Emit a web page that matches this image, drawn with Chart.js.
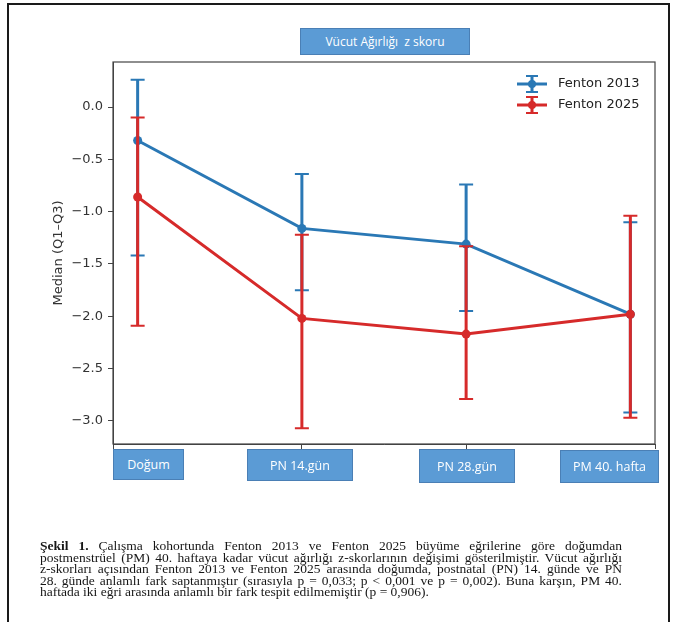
<!DOCTYPE html>
<html>
<head>
<meta charset="utf-8">
<script src="https://cdn.jsdelivr.net/npm/chart.js@4.4.1/dist/chart.umd.min.js"></script>
<style>
  body { margin: 0; width: 676px; height: 622px; overflow: hidden; background: #fff; position: relative; }
  #frame { position: absolute; left: 7px; top: 3px; width: 659px; height: 660px; border: 2px solid #1a1a1a; }
  #chart { position: absolute; left: 0; top: 0; }
  .box { position: absolute; background: #5b9bd5; border: 1px solid #4a7fb5; color: #fff;
         font-family: "Open Sans", sans-serif; font-size: 12.5px; display: flex; align-items: center;
         justify-content: center; box-sizing: border-box; }
  #caption { position: absolute; left: 40px; top: 540px; width: 582px; font-family: "Liberation Serif", serif;
             font-size: 13.5px; line-height: 11.6px; color: #161616; }
  #caption div { text-align: justify; text-align-last: justify; white-space: nowrap; }
  #caption div.last { text-align-last: left; }
</style>
</head>
<body>
<div id="frame"></div>
<canvas id="chart" width="676" height="622"></canvas>
<div class="box" id="title" style="left:300px;top:28px;width:170px;height:27px;font-size:12px;">Vücut Ağırlığı&nbsp; z skoru</div>
<div id="labels"></div>
<div id="caption">
  <div><b>Şekil 1.</b> Çalışma kohortunda Fenton 2013 ve Fenton 2025 büyüme eğrilerine göre doğumdan</div>
  <div>postmenstrüel (PM) 40. haftaya kadar vücut ağırlığı z-skorlarının değişimi gösterilmiştir. Vücut ağırlığı</div>
  <div>z-skorları açısından Fenton 2013 ve Fenton 2025 arasında doğumda, postnatal (PN) 14. günde ve PN</div>
  <div>28. günde anlamlı fark saptanmıştır (sırasıyla p = 0,033; p &lt; 0,001 ve p = 0,002). Buna karşın, PM 40.</div>
  <div class="last">haftada iki eğri arasında anlamlı bir fark tespit edilmemiştir (p = 0,906).</div>
</div>
<script>
const categories = ['Doğum', 'PN 14.gün', 'PN 28.gün', 'PM 40. hafta'];
const fenton2013Median = [-0.32, -1.16, -1.31, -1.98];
const fenton2013Q1 = [-1.42, -1.75, -1.95, -2.92];
const fenton2013Q3 = [0.26, -0.64, -0.74, -1.10];
const fenton2025Median = [-0.86, -2.02, -2.17, -1.98];
const fenton2025Q1 = [-2.09, -3.07, -2.79, -2.97];
const fenton2025Q3 = [-0.10, -1.22, -1.33, -1.04];

// label boxes were placed by hand in the figure (left, top, width, height)
const boxLayout = [[113, 449, 71, 31], [247, 449, 106, 32], [419, 449, 96, 34], [560, 450, 99, 33]];
categories.forEach(function (c, i) {
  const b = document.createElement('div');
  b.className = 'box';
  b.style.left = boxLayout[i][0] + 'px';
  b.style.top = boxLayout[i][1] + 'px';
  b.style.width = boxLayout[i][2] + 'px';
  b.style.height = boxLayout[i][3] + 'px';
  b.textContent = c;
  document.getElementById('labels').appendChild(b);
});

const blue = '#2a78b5';
const red = '#d62a2a';

function points(values) {
  return values.map(function (v, i) { return { x: i, y: v }; });
}

const errorBars = {
  id: 'errorBars',
  beforeDatasetDraw(chart, args) {
    const ds = chart.data.datasets[args.index];
    const xs = chart.scales.x, ys = chart.scales.y;
    const ctx = chart.ctx;
    ctx.save();
    ctx.strokeStyle = ds.borderColor;
    for (let i = 0; i < ds.q1.length; i++) {
      const px = xs.getPixelForValue(i);
      const lo = ys.getPixelForValue(ds.q1[i]);
      const hi = ys.getPixelForValue(ds.q3[i]);
      ctx.lineWidth = 3;
      ctx.beginPath();
      ctx.moveTo(px, lo);
      ctx.lineTo(px, hi);
      ctx.stroke();
      ctx.lineWidth = 2;
      ctx.beginPath();
      ctx.moveTo(px - 7, lo); ctx.lineTo(px + 7, lo);
      ctx.moveTo(px - 7, hi); ctx.lineTo(px + 7, hi);
      ctx.stroke();
    }
    ctx.restore();
  }
};

const frameAndLegend = {
  id: 'frameAndLegend',
  afterDraw(chart) {
    const ctx = chart.ctx;
    const a = chart.chartArea;
    ctx.save();
    ctx.strokeStyle = '#444';
    ctx.lineWidth = 1.2;
    ctx.strokeRect(a.left, a.top, a.right - a.left, a.bottom - a.top);
    // legend, matplotlib style errorbar icons
    chart.data.datasets.forEach(function (ds, k) {
      const cy = a.top + 22 + k * 21;
      const cx = a.right - 123;
      ctx.strokeStyle = ds.borderColor;
      ctx.fillStyle = ds.borderColor;
      ctx.lineWidth = 3;
      ctx.beginPath();
      ctx.moveTo(cx - 15, cy); ctx.lineTo(cx + 15, cy);
      ctx.moveTo(cx, cy - 8); ctx.lineTo(cx, cy + 8);
      ctx.stroke();
      ctx.lineWidth = 2;
      ctx.beginPath();
      ctx.moveTo(cx - 6, cy - 8); ctx.lineTo(cx + 6, cy - 8);
      ctx.moveTo(cx - 6, cy + 8); ctx.lineTo(cx + 6, cy + 8);
      ctx.stroke();
      ctx.beginPath();
      ctx.arc(cx, cy, 4, 0, Math.PI * 2);
      ctx.fill();
      ctx.fillStyle = '#222';
      ctx.font = '13px "DejaVu Sans"';
      ctx.textBaseline = 'middle';
      ctx.fillText(ds.label, cx + 26, cy);
    });
    ctx.restore();
  }
};

const chart = new Chart(document.getElementById('chart'), {
  type: 'line',
  data: {
    datasets: [{
      label: 'Fenton 2013',
      data: points(fenton2013Median),
      q1: fenton2013Q1,
      q3: fenton2013Q3,
      borderColor: blue,
      backgroundColor: blue,
      borderWidth: 3,
      pointRadius: 4.5,
      pointBorderWidth: 0,
      tension: 0,
      order: 2
    }, {
      label: 'Fenton 2025',
      data: points(fenton2025Median),
      q1: fenton2025Q1,
      q3: fenton2025Q3,
      borderColor: red,
      backgroundColor: red,
      borderWidth: 3,
      pointRadius: 4.5,
      pointBorderWidth: 0,
      tension: 0,
      order: 1
    }]
  },
  options: {
    responsive: false,
    animation: false,
    layout: { padding: { left: 51, top: 62, right: 21, bottom: 168 } },
    plugins: { legend: { display: false }, tooltip: { enabled: false } },
    scales: {
      x: {
        type: 'linear',
        min: -0.15,
        max: 3.15,
        afterFit: function (s) { s.height = 10; },
        ticks: { stepSize: 1, display: false },
        grid: { drawOnChartArea: false, tickLength: 5, color: '#444' },
        border: { color: '#444' }
      },
      y: {
        min: -3.22,
        max: 0.43,
        afterFit: function (s) { s.width = 62; },
        ticks: {
          stepSize: 0.5,
          includeBounds: false,
          padding: 5,
          color: '#333',
          font: { family: 'DejaVu Sans', size: 13 },
          callback: function (v) { return (v < 0 ? '\u2212' : '') + Math.abs(v).toFixed(1); }
        },
        grid: { drawOnChartArea: false, tickLength: 5, color: '#444' },
        border: { color: '#444' },
        title: {
          display: true,
          text: 'Median (Q1–Q3)',
          color: '#333',
          font: { family: 'DejaVu Sans', size: 13 },
          padding: { top: 0, bottom: 0 }
        }
      }
    }
  },
  plugins: [errorBars, frameAndLegend]
});
</script>
</body>
</html>
